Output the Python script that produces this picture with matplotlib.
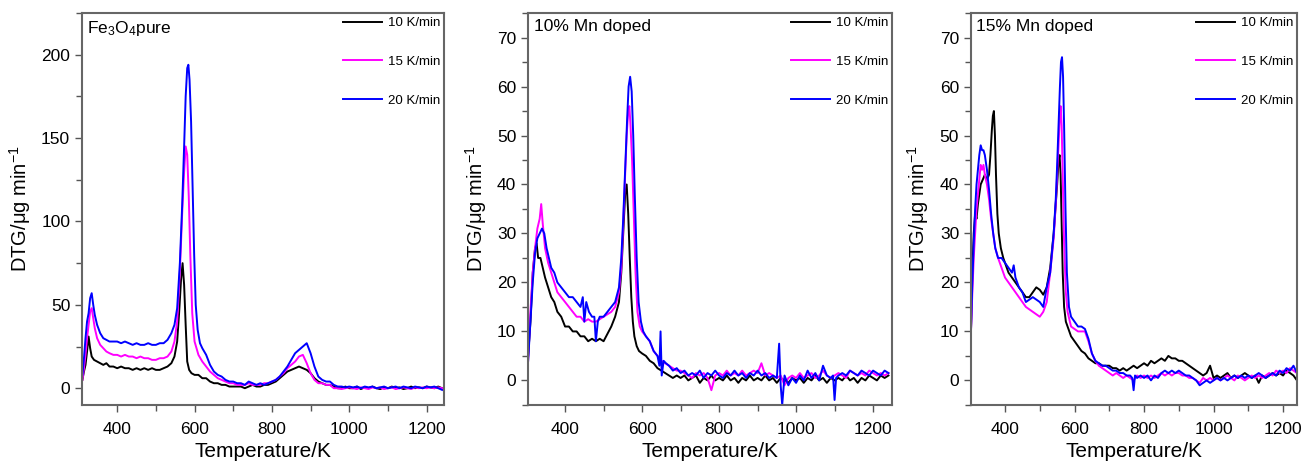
import matplotlib
matplotlib.use("Agg")
import matplotlib.pyplot as plt
from matplotlib.ticker import MultipleLocator

plt.rcParams['font.family'] = ['Liberation Sans', 'DejaVu Sans']
plt.rcParams['mathtext.default'] = 'regular'

rates = ["10 K/min", "15 K/min", "20 K/min"]
colors = ["#000000", "#ff00ff", "#0000ff"]
titles = ["Fe$_3$O$_4$pure", "10% Mn doped", "15% Mn doped"]

# ---- panel 1: Fe3O4 pure ----
fe_t10 = [310, 314, 318, 322, 326, 330, 334, 340,
          348, 356, 364, 372,
          380, 390, 400, 410, 420, 430, 440, 450, 460, 470, 480, 490, 500, 510, 520, 530, 540,
          548, 555, 560, 565, 569, 573, 577, 581, 586, 592,
          600, 610, 620, 630, 640, 650, 660, 670, 680, 690,
          700, 710, 720, 730, 740, 750, 760, 770, 780, 790,
          800, 810, 820, 830, 840, 850, 860, 870, 880, 890,
          900, 910, 920, 930, 940, 950, 960, 970, 980, 990,
          1000, 1010, 1020, 1030, 1040, 1050, 1060, 1070, 1080, 1090,
          1100, 1110, 1120, 1130, 1140, 1150, 1160, 1170, 1180, 1190,
          1200, 1210, 1220, 1230, 1240]
fe_v10 = [5, 10, 14, 22, 31, 24, 19, 17,
          16, 15, 14, 15,
          13, 13, 12, 13, 12, 12, 11, 12, 11, 12, 11, 12, 11, 11, 12, 13, 15,
          19, 28, 45, 65, 75, 62, 38, 16, 11, 9,
          8, 8, 6, 6, 4, 3, 3, 2, 2, 1,
          1, 1, 1, 0, 1, 2, 1, 1, 2, 2,
          3, 4, 6, 8, 10, 11, 12, 13, 12, 11,
          9, 6, 4, 3, 2, 2, 1, 0, 0, 1,
          0, 0, 1, -0.5, 0.5, 0, 1, 0, -0.5, 0.5,
          0, 1, 0, 0.5, -0.5, 0, 1, 0, 0.5, 0,
          1, 0.5, 0, 1, 0]

fe_t15 = [310, 314, 318, 322, 326, 330, 334, 338, 342, 348, 356, 364, 372,
          380, 390, 400, 410, 420, 430, 440, 450, 460, 470, 480, 490, 500, 510, 520, 530, 540,
          548, 555, 562, 568, 573, 577, 581, 585, 589, 594, 600,
          610, 620, 630, 640, 650, 660, 670, 680, 690, 700,
          710, 720, 730, 740, 750, 760, 770, 780, 790, 800,
          810, 820, 830, 840, 850, 860, 870, 880, 890, 900,
          910, 920, 930, 940, 950, 960, 970, 980, 990, 1000,
          1010, 1020, 1030, 1040, 1050, 1060, 1070, 1080, 1090, 1100,
          1110, 1120, 1130, 1140, 1150, 1160, 1170, 1180, 1190, 1200,
          1210, 1220, 1230, 1240]
fe_v15 = [5, 12, 20, 30, 38, 46, 48, 42, 36, 30, 26, 24, 22,
          21, 20, 20, 19, 20, 19, 19, 18, 19, 18, 18, 17, 17, 18, 18, 19, 22,
          28, 40, 70, 105, 130, 145, 140, 115, 80, 45, 28,
          20, 16, 13, 10, 8, 6, 5, 4, 3, 3,
          2, 2, 2, 3, 2, 2, 2, 3, 3, 4,
          5, 7, 9, 12, 14, 16, 19, 20, 15, 9,
          5, 3, 3, 2, 2, 0, 0, -0.5, 0, 0.5,
          0, -0.5, 0.5, 0, -0.5, 0.5, 0, 0.5, -0.5, 0,
          0.5, -0.5, 0, 0.5, 0, -0.5, 0.5, 0, 0.5, 0,
          0.5, 0, 0.5, 0]

fe_t20 = [310, 314, 318, 322, 326, 330, 334, 338, 342, 348, 356, 364, 372,
          380, 390, 400, 410, 420, 430, 440, 450, 460, 470, 480, 490, 500, 510, 520, 530, 540,
          548, 555, 562, 568, 573, 577, 581, 584, 587, 591, 595, 599, 603, 608, 614,
          620, 630, 640, 650, 660, 670, 680, 690, 700, 710,
          720, 730, 740, 750, 760, 770, 780, 790, 800, 810,
          820, 830, 840, 850, 860, 870, 880, 890, 900, 910,
          920, 930, 940, 950, 960, 970, 980, 990, 1000, 1010,
          1020, 1030, 1040, 1050, 1060, 1070, 1080, 1090, 1100, 1110,
          1120, 1130, 1140, 1150, 1160, 1170, 1180, 1190, 1200, 1210,
          1220, 1230, 1240]
fe_v20 = [8, 18, 30, 40, 45, 54, 57, 50, 44, 38, 33, 30, 29,
          28, 28, 28, 27, 28, 27, 26, 27, 26, 26, 27, 26, 26, 27, 27, 29, 33,
          38, 48, 75, 110, 145, 175, 192, 194, 185, 160, 120, 80, 50, 35, 27,
          24, 20, 14, 10, 8, 7, 5, 4, 4, 3,
          3, 2, 4, 3, 2, 3, 2, 3, 4, 5,
          7, 10, 13, 17, 21, 23, 25, 27, 21, 13,
          7, 5, 4, 4, 2, 1, 1, 0.5, 1, 0.5,
          1, 0, 1, 0.5, 1, 0, 0.5, 1, 0, 0.5,
          1, 0, 1, 0.5, 0, 1, 0.5, 0, 1, 0.5,
          1, 0, -1]

# ---- panel 2: 10% Mn doped ----
mn10_t10 = [304, 310, 316, 322, 326, 330, 336, 342, 348, 356, 364, 372, 380, 390,
            400, 410, 420, 430, 440, 450, 460, 470, 480, 490, 500, 510, 520, 530, 540,
            546, 551, 556, 560, 564, 568, 572, 576, 580, 586, 592, 600,
            610, 620, 630, 640, 650, 660, 670, 680, 690, 700,
            710, 720, 730, 740, 750, 760, 770, 780, 790, 800,
            810, 820, 830, 840, 850, 860, 870, 880, 890, 900,
            910, 920, 930, 940, 950, 960, 970, 980, 990, 1000,
            1010, 1020, 1030, 1040, 1050, 1060, 1070, 1080, 1090, 1100,
            1110, 1120, 1130, 1140, 1150, 1160, 1170, 1180, 1190, 1200,
            1210, 1220, 1230, 1240]
mn10_v10 = [5, 12, 22, 27, 28, 25, 25, 23, 21, 19, 17, 16, 14, 13,
            11, 11, 10, 10, 9, 9, 8, 8.5, 8, 8.5, 8, 9.5, 11, 13, 16,
            22, 30, 38, 40, 34, 25, 17, 12, 9, 7, 6, 5.5,
            5, 4, 3.5, 2.5, 2, 1.5, 1, 0.5, 1, 0.5,
            1, 0, 0.5, 1, -0.5, 0.5, 0, 1, 0, 0.5,
            0, 1, 0, 0.5, -0.5, 0.5, 0, 1, 0, 0.5,
            0, 1, 0, 0.5, -0.5, 0.5, 0, -0.5, 0.5, 0,
            0.5, -0.5, 0.5, 0, 1, 0, 0.5, -0.5, 0.5, 0,
            0.5, 0, 1, 0, 0.5, -0.5, 0.5, 0, 1, 0.5,
            0, 1, 0.5, 1]

mn10_t15 = [304, 310, 316, 322, 328, 334, 338, 342, 348, 356, 364, 372, 380, 390,
            400, 410, 420, 430, 440, 450, 460, 470, 480, 490, 500, 510, 520, 530, 540,
            546, 551, 556, 560, 564, 567, 570, 574, 578, 583, 588, 594, 600,
            610, 620, 630, 640, 650, 660, 670, 680, 690, 700,
            710, 720, 730, 740, 750, 760, 770, 780, 790, 800,
            810, 820, 830, 840, 850, 860, 870, 880, 890, 900,
            910, 920, 930, 940, 950, 960, 970, 980, 990, 1000,
            1010, 1020, 1030, 1040, 1050, 1060, 1070, 1080, 1090, 1100,
            1110, 1120, 1130, 1140, 1150, 1160, 1170, 1180, 1190, 1200,
            1210, 1220, 1230, 1240]
mn10_v15 = [4, 14, 22, 27, 31, 33, 36, 32, 27, 24, 22, 20, 18, 17,
            16, 15, 14, 13, 13, 12, 12.5, 12, 12, 12.5, 13, 13.5, 14, 15, 18,
            23, 32, 42, 50, 55, 56, 52, 45, 35, 22, 14, 11, 10,
            9, 8, 6, 5, 4, 3.5, 3, 2.5, 2, 2,
            1.5, 1, 0.5, 1.5, 1, 1.5, 0.5, -2, 1, 1.5,
            1, 2, 1, 1.5, 1, 2, 1, 1.5, 2, 1.5,
            3.5, 1, 1.5, 1, 0.5, 1, -1, 0.5, 1, 0.5,
            1.5, 0.5, 1, 1.5, 0.5, 1, 2, 1, 0.5, 1,
            1.5, 1, 0.5, 2, 1.5, 1, 1.5, 1, 2, 1.5,
            1, 1.5, 1, 1.5]

mn10_t20 = [304, 310, 316, 322, 328, 334, 340, 346, 352, 358, 364, 372, 380, 390,
            400, 410, 420, 430, 440, 446, 450, 455, 462, 470, 476, 480, 485, 490, 500, 510, 520, 530, 540,
            546, 551, 556, 561, 565, 569, 573, 577, 581, 586, 591, 597, 603,
            610, 620, 630, 640, 645, 648, 651, 656, 662, 670, 680, 690,
            700, 710, 720, 730, 740, 750, 760, 770, 780, 790,
            800, 810, 820, 830, 840, 850, 860, 870, 880, 890,
            900, 910, 920, 930, 940, 950,
            956, 960, 964,
            970, 980, 990, 1000, 1010, 1020, 1030, 1040, 1050, 1060, 1070, 1080, 1090,
            1096, 1100, 1104,
            1110, 1120, 1130, 1140, 1150, 1160, 1170, 1180, 1190, 1200, 1210, 1220, 1230, 1240]
mn10_v20 = [4, 12, 20, 26, 29, 30, 31, 30, 27, 25, 23, 22, 20, 19,
            18, 17, 17, 16, 15, 17, 12, 16, 14, 13, 13, 8, 12, 13, 13, 14, 15, 16, 19,
            25, 33, 43, 53, 60, 62, 59, 50, 38, 25, 16, 12, 10,
            9, 8, 6, 5, 3, 10, 1, 4, 3.5, 3, 2, 2.5,
            1.5, 2, 1, 1.5, 1, 2, 0.5, 1.5, 1, 2,
            1, 0.5, 1.5, 1, 2, 1, 1.5, 0.5, 1.5, 1,
            2, 1, 1.5, 0.5, 1, 0.5,
            7.5, -1, -5,
            1, -1, 0.5, -0.5, 1, 0, 2, 0.5, 1.5, 0, 3, 1, 0.5,
            1, -4, 0.5,
            1, 1.5, 1, 2, 1.5, 1, 2, 1.5, 1, 2, 1.5, 1, 2, 1.5]

# ---- panel 3: 15% Mn doped ----
mn15_t10 = [302, 306, 310, 314, 318, 322, 326, 330, 336, 342, 348, 354, 358, 362, 365, 368, 371, 374, 378, 382, 388, 395,
            400, 410, 420, 430, 440, 450, 460, 470, 480, 490, 500, 510, 520, 530, 540,
            546, 550, 554, 557, 560, 563, 566, 570, 575, 580, 590,
            600, 610, 620, 630, 640, 650, 660, 670, 680, 690,
            700, 710, 720, 730, 740, 750, 760, 770, 780, 790,
            800, 810, 820, 830, 840, 850, 860, 870, 880, 890,
            900, 910, 920, 930, 940, 950, 960, 970, 980, 990,
            1000, 1010, 1020, 1030, 1040, 1050, 1060, 1070, 1080, 1090,
            1100, 1110, 1120, 1130, 1140, 1150, 1160, 1170, 1180, 1190,
            1200, 1210, 1220, 1230, 1240]
mn15_v10 = [10, 22, 30, 34, 33, 36, 38, 40, 41, 42, 41, 42, 46, 51, 54, 55, 50, 42, 34, 30, 27, 25,
            24, 22, 21, 20, 19, 18, 17, 17, 18, 19, 18.5, 17.5, 19, 23, 30,
            36, 40, 45, 46, 42, 32, 22, 15, 12, 11, 9,
            8, 7, 6, 5.5, 4.5, 4, 3.5, 3.5, 3, 3,
            3, 2.5, 2.5, 2, 2.5, 2, 2.5, 3, 2.5, 3,
            3.5, 3, 4, 3.5, 4, 4.5, 4, 5, 4.5, 4.5,
            4, 4, 3.5, 3, 2.5, 2, 1.5, 1, 1.5, 3,
            0.5, 1, 0.5, 1, 1.5, 0.5, 1, 0.5, 1, 1.5,
            1, 0.5, 1, -0.5, 1, 0.5, 1, 1.5, 1, 1.5,
            1, 2, 1.5, 1, 0]

mn15_t15 = [302, 306, 310, 314, 318, 322, 326, 330, 334, 338, 342, 348, 354, 360, 366, 372, 380, 390,
            400, 410, 420, 430, 440, 450, 460, 470, 480, 490, 500, 510, 520, 530, 540,
            546, 550, 554, 557, 560, 563, 566, 570, 575, 580, 590,
            600, 610, 620, 630, 640, 650, 660, 670, 680, 690,
            700, 710, 720, 730, 740, 750, 760, 770, 780, 790,
            800, 810, 820, 830, 840, 850, 860, 870, 880, 890,
            900, 910, 920, 930, 940, 950, 960, 970, 980, 990,
            1000, 1010, 1020, 1030, 1040, 1050, 1060, 1070, 1080, 1090,
            1100, 1110, 1120, 1130, 1140, 1150, 1160, 1170, 1180, 1190,
            1200, 1210, 1220, 1230, 1240]
mn15_v15 = [10, 18, 25, 30, 35, 38, 41, 44, 43, 44, 42, 40, 37, 33, 30, 27, 25, 23,
            21, 20, 19, 18, 17, 16, 15, 14.5, 14, 13.5, 13, 14, 16, 22, 29,
            36, 42, 48, 53, 56, 52, 42, 28, 18, 14, 11,
            10.5, 10, 10, 10, 8, 5.5, 4, 3, 2.5, 2,
            1.5, 1, 1.5, 1, 0.5, 1, 0.5, 0, 1, 0.5,
            1, 0.5, 1, 0.5, 1, 1.5, 1, 1.5, 1, 1.5,
            1.5, 1, 1, 0.5, 0.5, 0, -0.5, 0.5, 0, 0.5,
            0, 0.5, 0, 0.5, 1, 0.5, 0, 1, 0.5, 0,
            0.5, 1, 0.5, 1, 0.5, 1, 1.5, 1, 2, 1.5,
            2, 1.5, 2.5, 2, 1.5]

mn15_t20 = [302, 306, 310, 314, 318, 322, 326, 330, 334, 338, 342, 348, 354, 360, 366, 372, 380, 390,
            400, 410, 420, 425, 430, 440, 450, 460, 470, 480, 490, 500, 510, 520, 530, 540,
            546, 550, 554, 558, 561, 564, 567, 570, 574, 578, 584, 590,
            600, 610, 620, 630, 640, 650, 660, 670, 680, 690, 700, 710, 720, 730, 740, 750, 760,
            766, 770, 774,
            780, 790, 800, 810, 820, 830, 840, 850, 860, 870,
            880, 890, 900, 910, 920, 930, 940, 950, 960, 970,
            980, 990, 1000, 1010, 1020, 1030, 1040, 1050, 1060, 1070,
            1080, 1090, 1100, 1110, 1120, 1130, 1140, 1150, 1160, 1170,
            1180, 1190, 1200, 1210, 1220, 1230, 1240]
mn15_v20 = [10, 20, 28, 35, 40, 43, 46, 48, 47, 47, 46, 43, 39, 34, 30, 27, 25, 25,
            24, 23, 22, 23.5, 21, 19, 18, 16, 16.5, 17, 16.5, 16, 15, 19, 22, 30,
            37, 44, 52, 60, 65, 66, 62, 52, 35, 22, 15, 13,
            12, 11, 11, 10.5, 8.5, 5.5, 4, 3.5, 3, 3, 2.5, 2, 2, 1.5, 1.5, 1, 1,
            0.5, -2, 1,
            0.5, 1, 0.5, 1, 0, 1, 0.5, 1.5, 2, 1.5,
            2, 1.5, 2, 1.5, 1, 1, 0.5, 0, -1, -0.5,
            0, -0.5, 0, 0.5, 0, 0.5, 0, 0.5, 1, 0.5,
            1, 0.5, 1, 0.5, 1, 1.5, 1, 0.5, 1, 1.5,
            1, 2, 1.5, 2.5, 2, 3, 1.5]

panels = [
    ([(fe_t10, fe_v10), (fe_t15, fe_v15), (fe_t20, fe_v20)],
     (309, 1245), (-10, 225), 50, 25, [0.0629, 0.133, 0.2776, 0.839]),
    ([(mn10_t10, mn10_v10), (mn10_t15, mn10_v15), (mn10_t20, mn10_v20)],
     (304, 1249), (-5, 75), 10, 5, [0.405, 0.133, 0.279, 0.839]),
    ([(mn15_t10, mn15_v10), (mn15_t15, mn15_v15), (mn15_t20, mn15_v20)],
     (302, 1240), (-5, 75), 10, 5, [0.7446, 0.133, 0.25, 0.839]),
]

fig = plt.figure(figsize=(13.04, 4.67), dpi=100)

for i, (series, xl, yl, ymaj, ymin, pos) in enumerate(panels):
    ax = fig.add_axes(pos)
    for (t, v), lab, c in zip(series, rates, colors):
        ax.plot(t, v, color=c, lw=1.4, label=lab)
    ax.set_xlim(*xl)
    ax.set_ylim(*yl)
    ax.xaxis.set_major_locator(MultipleLocator(200))
    ax.xaxis.set_minor_locator(MultipleLocator(100))
    ax.yaxis.set_major_locator(MultipleLocator(ymaj))
    ax.yaxis.set_minor_locator(MultipleLocator(ymin))
    ax.tick_params(which='both', direction='out', top=False, right=False,
                   color='#555555', labelsize=12.5)
    ax.tick_params(which='major', length=5, width=1)
    ax.tick_params(which='minor', length=4, width=1)
    ax.tick_params(axis='x', which='major', pad=7)
    for sp in ax.spines.values():
        sp.set_color('#666666')
        sp.set_linewidth(1.5)
    ax.set_xlabel("Temperature/K", fontsize=15, labelpad=4)
    ax.set_ylabel("DTG/\u03bcg min$^{-1}$", fontsize=14.5, labelpad=6)
    ax.text(0.015, 0.985, titles[i], transform=ax.transAxes, ha='left', va='top', fontsize=12.5)
    ax.legend(loc='upper right', frameon=False, fontsize=9.5, handlelength=3.0,
              handletextpad=0.4, labelspacing=2.0, borderaxespad=0.2, borderpad=0.1)

fig.savefig("out.png", dpi=100)
